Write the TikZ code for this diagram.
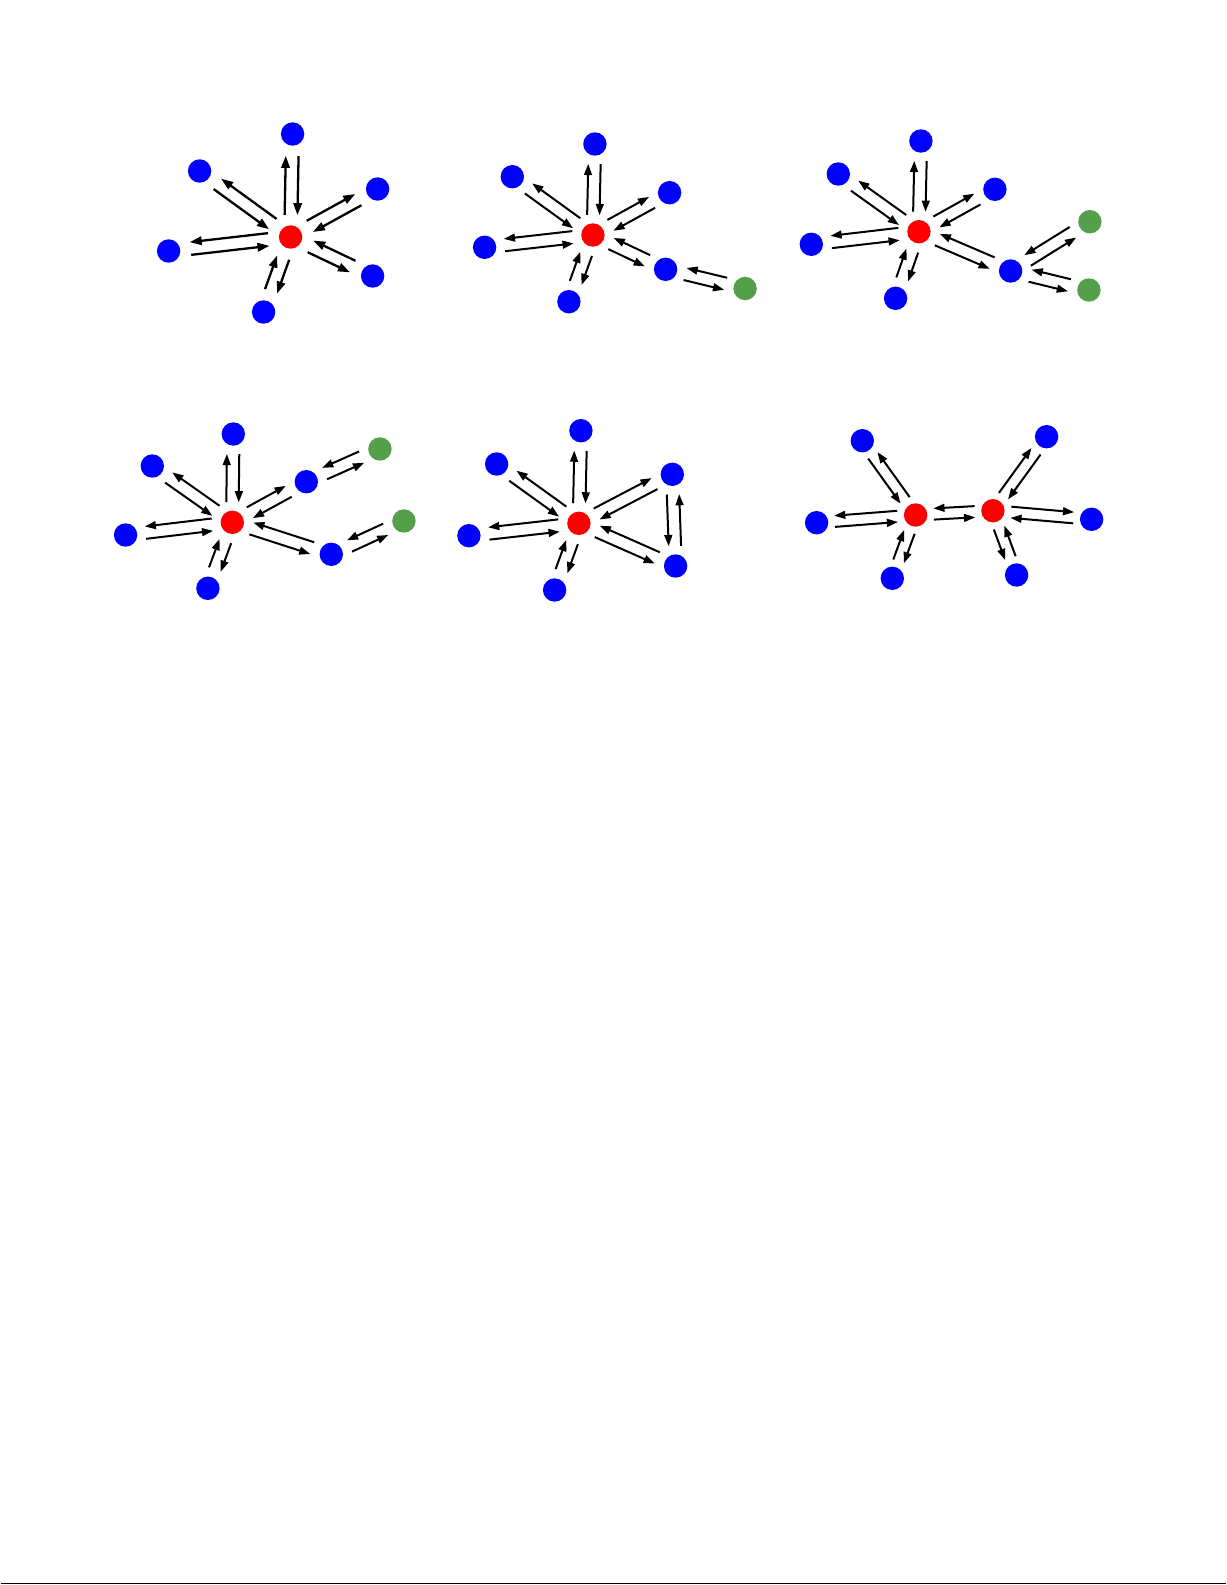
\documentclass[tikz,border=0pt]{standalone}
\usetikzlibrary{calc,arrows.meta}
\definecolor{leafgreen}{RGB}{84,160,74}
\tikzset{
	hub/.style={circle,fill=red,inner sep=0pt,minimum size=11.7pt},
	leaf/.style={circle,fill=blue,inner sep=0pt,minimum size=11.7pt},
	tail/.style={circle,fill=leafgreen,inner sep=0pt,minimum size=11.7pt},
	link/.style={line width=1pt,-{Triangle[length=5.6pt,width=3.9pt]}}
}
\def\dd{10pt}\def\ss{3.1pt}
% two opposite arrows between #1 and #2, #3 = + (left) or - (right)
\newcommand{\pair}[3]{%
	\draw[link]($(#1)!\dd!(#2)!#3\ss!90:(#2)$)--($(#2)!\dd!(#1)!#3\ss!-90:(#1)$);
	\draw[link]($(#2)!\dd!(#1)!#3\ss!90:(#1)$)--($(#1)!\dd!(#2)!#3\ss!-90:(#2)$);}
\begin{document}
\begin{tikzpicture}[x=0.5pt,y=-0.5pt]
	\path[fill=white](0,0) rectangle (1225,1585);
	% top left
	\begin{scope}[every node/.append style={minimum size=13.5pt},link/.style={line width=1.15pt,-{Triangle[length=6pt,width=4.2pt]}}]
	    \def\dd{11pt}\def\ss{3.2pt}
	    \node[hub](c1) at (290,237) {};
	    \node[leaf](n1) at (292,134) {};
	    \node[leaf](nw1) at (199,171) {};
	    \node[leaf](w1) at (168,251) {};
	    \node[leaf](s1) at (263,312) {};
	    \node[leaf](ne1) at (377,189) {};
	    \node[leaf](se1) at (372,276) {};
	    \pair{c1}{n1}{+}
	    \pair{c1}{nw1}{-}
	    \pair{c1}{w1}{-}
	    \pair{c1}{s1}{+}
	    \pair{c1}{ne1}{+}
	    \pair{c1}{se1}{-}
	\end{scope}
	% top middle
	\node[hub](c2) at (592.3,235) {};
	\node[leaf](n2) at (594.3,144) {};
	\node[leaf](nw2) at (511.7,176.7) {};
	\node[leaf](w2) at (484,247.3) {};
	\node[leaf](s2) at (568.3,301.7) {};
	\node[leaf](ne2) at (669,192.7) {};
	\node[leaf](se2) at (665,269.3) {};
	\node[tail](g2) at (744.5,288.5) {};
	\pair{c2}{n2}{+}
	\pair{c2}{nw2}{-}
	\pair{c2}{w2}{-}
	\pair{c2}{s2}{+}
	\pair{c2}{ne2}{+}
	\pair{c2}{se2}{-}
	\pair{se2}{g2}{-}
	% top right
	\node[hub](c3) at (918.3,231.7) {};
	\node[leaf](n3) at (920.3,141) {};
	\node[leaf](nw3) at (837.7,174) {};
	\node[leaf](w3) at (810.7,244.3) {};
	\node[leaf](s3) at (895,298.3) {};
	\node[leaf](ne3) at (994.3,189.3) {};
	\node[leaf](se3) at (1010,271) {};
	\node[tail](ga3) at (1089.3,221.7) {};
	\node[tail](gb3) at (1088.3,290) {};
	\pair{c3}{n3}{+}
	\pair{c3}{nw3}{-}
	\pair{c3}{w3}{-}
	\pair{c3}{s3}{+}
	\pair{c3}{ne3}{+}
	\pair{c3}{se3}{-}
	\pair{se3}{ga3}{-}
	\pair{se3}{gb3}{-}
	% bottom left
	\node[hub](c4) at (231.7,522.3) {};
	\node[leaf](n4) at (232.7,434) {};
	\node[leaf](nw4) at (151.7,466) {};
	\node[leaf](w4) at (125,535) {};
	\node[leaf](s4) at (207.3,588.3) {};
	\node[leaf](ne4) at (305.7,481.7) {};
	\node[leaf](se4) at (330.7,554.3) {};
	\node[tail](ga4) at (379.3,449) {};
	\node[tail](gb4) at (403.3,521) {};
	\pair{c4}{n4}{+}
	\pair{c4}{nw4}{-}
	\pair{c4}{w4}{-}
	\pair{c4}{s4}{+}
	\pair{c4}{ne4}{+}
	\pair{ne4}{ga4}{-}
	\pair{c4}{se4}{-}
	\pair{se4}{gb4}{-}
	% bottom middle
	\node[hub](c5) at (578.3,523.3) {};
	\node[leaf](n5) at (580.3,430.7) {};
	\node[leaf](nw5) at (496,464) {};
	\node[leaf](w5) at (468.3,535.7) {};
	\node[leaf](s5) at (554,590) {};
	\node[leaf](ne5) at (671.7,474.3) {};
	\node[leaf](se5) at (675,566) {};
	\pair{c5}{n5}{+}
	\pair{c5}{nw5}{-}
	\pair{c5}{w5}{-}
	\pair{c5}{s5}{+}
	\pair{c5}{ne5}{+}
	\pair{c5}{se5}{-}
	\pair{ne5}{se5}{-}
	% bottom right
	\begin{scope}[every node/.append style={minimum size=11pt}]
	    \def\dd{9pt}\def\ss{2.8pt}
	    \node[hub](a6) at (915,515) {};
	    \node[hub](b6) at (992.3,510.7) {};
	    \node[leaf](nw6) at (861.7,440.7) {};
	    \node[leaf](w6) at (816,522.7) {};
	    \node[leaf](s6) at (891.7,578.3) {};
	    \node[leaf](ne6) at (1046,436.7) {};
	    \node[leaf](e6) at (1091,519.3) {};
	    \node[leaf](se6) at (1016,575) {};
	    \pair{a6}{nw6}{-}
	    \pair{a6}{w6}{-}
	    \pair{a6}{s6}{+}
	    \pair{a6}{b6}{-}
	    \pair{b6}{ne6}{+}
	    \pair{b6}{e6}{+}
	    \pair{b6}{se6}{-}
	\end{scope}
	\draw[line width=0.6pt](0,1583.6)--(1225,1583.6);
\end{tikzpicture}
\end{document}
